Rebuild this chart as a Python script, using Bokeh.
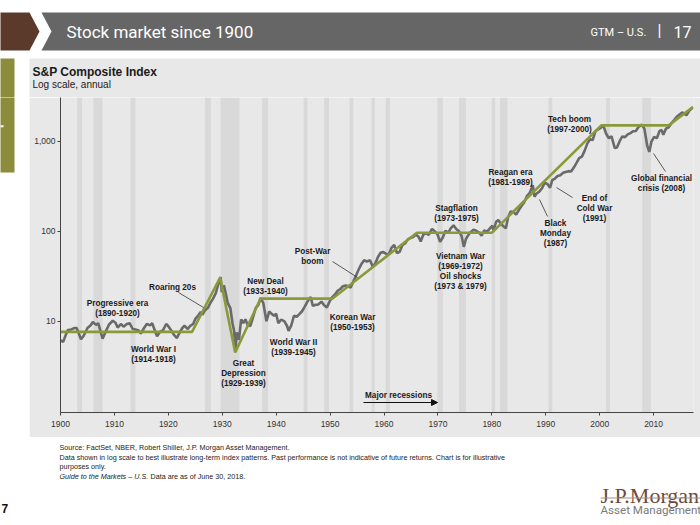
import math
from bokeh.plotting import figure
from bokeh.layouts import column, row
from bokeh.models import Range1d, FixedTicker, NumeralTickFormatter, Arrow, NormalHead
from bokeh.core.properties import value
from bokeh.embed import file_html
from bokeh.resources import INLINE

# ---------------- data ----------------
idx_years = [
    1900.0, 1900.5, 1901.0, 1901.4, 1902.0, 1902.6, 1903.0, 1903.8, 1904.3, 1905.0,
    1905.6, 1906.0, 1906.6, 1907.0, 1907.8, 1908.4, 1909.0, 1909.7, 1910.2, 1910.6,
    1911.2, 1911.7, 1912.3, 1912.8, 1913.4, 1913.9, 1914.5, 1914.9, 1915.5, 1916.0,
    1916.6, 1917.0, 1917.9, 1918.5, 1919.0, 1919.6, 1920.0, 1920.6, 1921.0, 1921.6,
    1922.0, 1922.6, 1923.0, 1923.6, 1924.0, 1924.6, 1925.0, 1925.6, 1926.0, 1926.3,
    1926.8, 1927.3, 1927.8, 1928.3, 1928.8, 1929.2, 1929.7, 1929.9, 1930.3, 1930.6,
    1931.0, 1931.5, 1931.9, 1932.2, 1932.45, 1932.7, 1933.1, 1933.5, 1933.9, 1934.3,
    1934.7, 1935.2, 1935.7, 1936.2, 1936.7, 1937.1, 1937.6, 1938.2, 1938.7, 1939.1,
    1939.6, 1940.0, 1940.4, 1940.9, 1941.5, 1942.0, 1942.3, 1942.8, 1943.3, 1943.8,
    1944.3, 1944.8, 1945.3, 1945.8, 1946.4, 1946.8, 1947.3, 1947.8, 1948.4, 1948.9,
    1949.4, 1949.9, 1950.4, 1950.9, 1951.4, 1951.9, 1952.4, 1952.9, 1953.4, 1953.8,
    1954.3, 1954.8, 1955.3, 1955.8, 1956.3, 1956.8, 1957.4, 1957.9, 1958.4, 1958.9,
    1959.4, 1959.9, 1960.4, 1960.9, 1961.4, 1961.9, 1962.4, 1962.9, 1963.4, 1963.9,
    1964.4, 1964.9, 1965.4, 1965.9, 1966.4, 1966.8, 1967.3, 1967.8, 1968.3, 1968.9,
    1969.4, 1969.9, 1970.4, 1970.9, 1971.4, 1971.9, 1972.4, 1972.9, 1973.4, 1973.9,
    1974.4, 1974.8, 1975.2, 1975.6, 1976.0, 1976.6, 1977.1, 1977.6, 1978.1, 1978.6,
    1979.1, 1979.6, 1980.1, 1980.3, 1980.8, 1981.2, 1981.7, 1982.2, 1982.6, 1983.0,
    1983.5, 1984.0, 1984.5, 1985.0, 1985.5, 1986.0, 1986.5, 1987.0, 1987.6, 1987.9,
    1988.3, 1988.8, 1989.3, 1989.8, 1990.3, 1990.8, 1991.2, 1991.7, 1992.2, 1992.7,
    1993.2, 1993.7, 1994.2, 1994.7, 1995.2, 1995.7, 1996.2, 1996.7, 1997.2, 1997.7,
    1998.2, 1998.7, 1999.2, 1999.7, 2000.2, 2000.7, 2001.2, 2001.7, 2002.2, 2002.8,
    2003.2, 2003.7, 2004.2, 2004.7, 2005.2, 2005.7, 2006.2, 2006.7, 2007.2, 2007.8,
    2008.3, 2008.8, 2009.2, 2009.6, 2010.1, 2010.6, 2011.1, 2011.5, 2011.8, 2012.3,
    2012.8, 2013.3, 2013.8, 2014.3, 2014.8, 2015.3, 2015.8, 2016.1, 2016.6, 2017.0,
    2017.3,
]
idx_values = [
    6.1, 5.9, 7.1, 8.0, 8.1, 8.4, 8.4, 6.3, 6.9, 8.4,
    9.0, 9.8, 9.1, 9.5, 6.4, 7.7, 9.2, 10.1, 9.6, 8.5,
    9.3, 8.7, 9.3, 9.5, 8.2, 8.1, 7.9, 7.3, 8.4, 9.3,
    9.0, 9.5, 6.8, 7.7, 7.9, 9.3, 8.8, 7.8, 7.1, 6.5,
    7.3, 8.4, 8.9, 8.2, 8.8, 9.3, 10.6, 11.7, 12.7, 11.8,
    13.2, 14.0, 16.0, 17.8, 20.5, 25.0, 31.0, 21.0, 25.0, 21.0,
    16.0, 14.0, 9.5, 7.8, 4.8, 7.5, 6.2, 10.5, 9.5, 10.5,
    9.1, 8.8, 11.0, 14.0, 15.2, 18.1, 16.0, 10.0, 12.8, 12.2,
    11.5, 12.1, 9.5, 10.4, 10.0, 8.9, 7.8, 9.0, 11.5, 11.2,
    12.0, 12.9, 14.5, 16.5, 18.6, 14.8, 15.2, 15.3, 16.5, 15.0,
    14.2, 16.5, 18.5, 19.8, 21.8, 22.8, 24.5, 25.0, 24.5, 23.5,
    27.5, 32.0, 37.5, 43.0, 47.5, 46.0, 47.5, 40.5, 44.0, 52.0,
    58.0, 58.5, 56.0, 55.5, 65.5, 70.5, 57.0, 59.0, 70.0, 73.0,
    81.0, 84.0, 86.0, 92.0, 87.0, 77.0, 92.0, 95.0, 91.0, 106.0,
    100.0, 93.0, 76.0, 85.0, 101.0, 96.0, 108.0, 116.0, 106.0, 100.0,
    88.0, 67.0, 82.0, 90.0, 97.0, 104.0, 101.0, 97.0, 89.0, 102.0,
    99.0, 107.0, 115.0, 102.0, 127.0, 133.0, 120.0, 113.0, 108.0, 142.0,
    166.0, 163.0, 153.0, 172.0, 190.0, 210.0, 245.0, 265.0, 325.0, 242.0,
    262.0, 275.0, 300.0, 345.0, 335.0, 305.0, 370.0, 385.0, 410.0, 418.0,
    445.0, 455.0, 465.0, 460.0, 510.0, 575.0, 650.0, 675.0, 780.0, 940.0,
    1050.0, 1030.0, 1290.0, 1350.0, 1410.0, 1480.0, 1210.0, 1080.0, 1130.0, 840.0,
    850.0, 1000.0, 1130.0, 1110.0, 1190.0, 1230.0, 1290.0, 1300.0, 1440.0, 1530.0,
    1370.0, 900.0, 760.0, 990.0, 1120.0, 1080.0, 1300.0, 1330.0, 1180.0, 1380.0,
    1430.0, 1580.0, 1720.0, 1870.0, 1980.0, 2090.0, 2000.0, 1940.0, 2170.0, 2290.0,
    2390.0,
]
trend_years = [1900.0, 1924.4, 1929.6, 1932.4, 1937.1, 1950.4, 1966.1, 1980.0, 2000.3, 2012.8, 2017.3]
trend_values = [7.6, 7.6, 30.5, 4.5, 17.8, 17.8, 96.0, 96.0, 1500.0, 1500.0, 2400.0]

recession_start = [1903.1, 1906.1, 1913.0, 1926.8, 1929.7, 1937.4, 1945.1, 1948.9, 1953.6, 1957.7,
                   1960.3, 1969.9, 1973.9, 1980.0, 1981.5, 1990.5, 2001.2, 2007.9]
recession_end = [1904.0, 1907.8, 1913.9, 1927.9, 1933.2, 1938.5, 1945.8, 1949.8, 1954.3, 1958.3,
                 1961.1, 1970.9, 1975.2, 1980.6, 1982.9, 1991.2, 2001.9, 2009.5]

x_ticks = [1900, 1910, 1920, 1930, 1940, 1950, 1960, 1970, 1980, 1990, 2000, 2010]
y_ticks = [10, 100, 1000]

ann_texts = ["Progressive era", "(1890-1920)", "Roaring 20s", "World War I", "(1914-1918)",
             "New Deal", "(1933-1940)", "Great", "Depression", "(1929-1939)",
             "World War II", "(1939-1945)", "Post-War", "boom", "Korean War", "(1950-1953)",
             "Stagflation", "(1973-1975)", "Vietnam War", "(1969-1972)", "Oil shocks", "(1973 & 1979)",
             "Reagan era", "(1981-1989)", "Black", "Monday", "(1987)", "End of", "Cold War", "(1991)",
             "Tech boom", "(1997-2000)", "Global financial", "crisis (2008)", "Major recessions"]

footer_lines = ["Source: FactSet, NBER, Robert Shiller, J.P. Morgan Asset Management.",
                "Data shown in log scale to best illustrate long-term index patterns. Past performance is not indicative of future returns. Chart is for illustrative",
                "purposes only."]

# ---------------- layout (canvas pixel positions) ----------------
W, H = 700, 525
PANEL_L, PANEL_T, PANEL_B = 29, 58, 437
FL, FR, FT, FB = 60, 693, 97, 412
X_MIN, X_MAX = 1900.0, 2017.4
Y_MIN, Y_MAX = 0.967, 3060.0
PANEL = "#e8e8e8"
STRIP = "#8b8c3c"
FONT = "Liberation Sans"


def px_x(X):
    return X_MIN + (X - FL) * (X_MAX - X_MIN) / (FR - FL)


def px_y(Y):
    lo, hi = math.log10(Y_MIN), math.log10(Y_MAX)
    return 10 ** (hi - (Y - FT) / (FB - FT) * (hi - lo))


ann_pos = [(117, 303), (117, 313), (172, 287), (153, 349), (153, 359),
           (265, 281), (265, 291), (243, 363), (243, 373), (243, 383),
           (293, 342), (293, 352), (312, 251), (312, 261), (352, 317), (352, 327),
           (456, 208), (456, 218), (460, 256), (460, 266), (460, 276), (460, 286),
           (510, 172), (510, 182), (555, 223), (555, 233), (555, 243), (594, 198), (594, 208), (594, 218),
           (569, 119), (569, 129), (661, 178), (661, 188), (398, 395)]
leaders = [((178, 292), (203, 307)), ((332, 261), (357, 277)), ((539, 199), (547, 216)),
           ((556, 187), (572, 197)), ((653, 153), (665, 171))]


def deco_fig(width, y0, y1, x0=0):
    f = figure(width=width, height=y1 - y0, output_backend="svg", toolbar_location=None,
               x_range=Range1d(x0, x0 + width), y_range=Range1d(y1, y0),
               x_axis_location=None, y_axis_location=None, min_border=0)
    f.grid.visible = False
    f.outline_line_color = None
    f.background_fill_color = "white"
    f.border_fill_color = "white"
    return f


def txt(f, x, y, text, size, color="#1a1a1a", style="normal", align="left", font=FONT,
        baseline="middle"):
    f.text(x=[x], y=[y], text=[text], text_font=value(font), text_font_size=value(size),
           text_font_style=style, text_color=color, text_align=align, text_baseline=baseline)


# ---------------- header ----------------
head = deco_fig(W, 0, FT)
head.quad(left=[PANEL_L], right=[W + 2], top=[PANEL_T], bottom=[FT + 2], fill_color=PANEL, line_color=None)
head.quad(left=[-2], right=[14], top=[PANEL_T], bottom=[FT + 2], fill_color=STRIP, line_color=None)
head.patch([-2, 29, 39, 29, -2], [12, 12, 31, 50, 50], fill_color="#5c3a2b", line_color=None)
head.patch([41, 702, 702, 41, 51], [12, 12, 50, 50, 31], fill_color="#666666", line_color=None)
txt(head, 66, 31, "Stock market since 1900", "17px", color="white", font="Roboto")
txt(head, 590, 31.5, "GTM – U.S.", "11px", color="white", font="Roboto")
txt(head, 659, 30, "|", "16px", color="white", align="center", font="Roboto")
txt(head, 673, 31, "17", "16px", color="white", font="Roboto")
txt(head, 32, 71, "S&P Composite Index", "12px", style="bold")
txt(head, 32, 84, "Log scale, annual", "10px")

# ---------------- left strip ----------------
strip = deco_fig(PANEL_L, FT, PANEL_B)
strip.quad(left=[-2], right=[14], top=[FT - 2], bottom=[178], fill_color=STRIP, line_color=None)
strip.quad(left=[-2], right=[3], top=[127], bottom=[129], fill_color="white", line_color=None)

# ---------------- main chart ----------------
p = figure(width=W - PANEL_L, height=PANEL_B - FT, output_backend="svg", toolbar_location=None,
           y_axis_type="log", x_range=Range1d(X_MIN, X_MAX), y_range=Range1d(Y_MIN, Y_MAX),
           min_border_left=FL - PANEL_L, min_border_right=W - FR, min_border_top=0,
           min_border_bottom=PANEL_B - FB)
p.title.visible = False
p.background_fill_color = PANEL
p.border_fill_color = PANEL
p.outline_line_color = None
p.grid.visible = False

p.quad(left=recession_start, right=recession_end, bottom=Y_MIN, top=Y_MAX,
       fill_color="#d9d9d9", line_color=None)
p.line(idx_years, idx_values, line_color="#6a6a6a", line_width=2.6)
p.line(trend_years, trend_values, line_color="#8a9a3a", line_width=2.6)
p.segment(x0=[px_x(a[0]) for a, b in leaders], y0=[px_y(a[1]) for a, b in leaders],
          x1=[px_x(b[0]) for a, b in leaders], y1=[px_y(b[1]) for a, b in leaders],
          line_color="#333333", line_width=0.8)
p.text(x=[px_x(a) for a, b in ann_pos], y=[px_y(b) for a, b in ann_pos], text=ann_texts,
       text_font=value(FONT), text_font_size=value("8.2px"), text_font_style="bold",
       text_color="#1a1a1a", text_align="center", text_baseline="middle")
p.add_layout(Arrow(end=NormalHead(size=6, fill_color="#111111", line_color="#111111"),
                   x_start=px_x(363), y_start=px_y(402), x_end=px_x(437), y_end=px_y(402),
                   line_color="#111111", line_width=1))

p.xaxis.ticker = FixedTicker(ticks=x_ticks)
p.yaxis.ticker = FixedTicker(ticks=y_ticks)
p.yaxis.formatter = NumeralTickFormatter(format="0,0")
for ax in (p.xaxis, p.yaxis):
    ax.axis_line_color = "#444444"
    ax.axis_line_width = 1
    ax.major_tick_line_color = "#444444"
    ax.major_tick_in = 0
    ax.major_tick_out = 3
    ax.minor_tick_line_color = None
    ax.major_label_text_font = FONT
    ax.major_label_text_font_size = "8.5px"
    ax.major_label_text_color = "#333333"
p.xaxis.major_label_standoff = 5
p.yaxis.major_label_standoff = 2

# ---------------- footer ----------------
foot = deco_fig(W, PANEL_B, H)
for i, line in enumerate(footer_lines):
    txt(foot, 59, 447 + 9.5 * i, line, "7.2px", color="#222222")
txt(foot, 59, 475.5, "Guide to the Markets – U.S.", "7.2px", color="#222222", style="italic")
txt(foot, 150, 475.5, "Data are as of June 30, 2018.", "7.2px", color="#222222")
txt(foot, 1, 508, "7", "12px", color="#111111", style="bold")
txt(foot, 600, 495, "J.P.Morgan", "22px", color="#6b4a3a", font="Liberation Serif", baseline="alphabetic")
foot.quad(left=[600], right=[702], top=[497], bottom=[498], fill_color="#a0928a", line_color=None)
txt(foot, 600, 509, "Asset Management", "11.6px", color="#7a7a7a", font="Roboto")

layout = column(head, row(strip, p, spacing=0), foot, spacing=0)
open("out.html", "w").write(file_html(layout, INLINE))
